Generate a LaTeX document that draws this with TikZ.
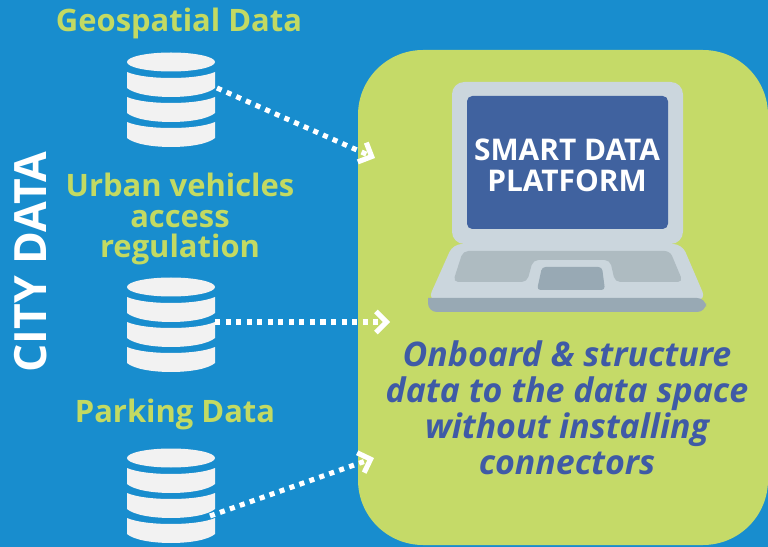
\documentclass[tikz,border=0pt]{standalone}
\usepackage{fontspec}
\setmainfont{Open Sans}
\usetikzlibrary{arrows.meta}

\definecolor{cityblue}{HTML}{188DCE}
\definecolor{panelgreen}{HTML}{C5DA68}
\definecolor{labelgreen}{HTML}{C3DA62}
\definecolor{stackwhite}{HTML}{F2F2F2}
\definecolor{screenblue}{HTML}{40629F}
\definecolor{captionblue}{HTML}{3F5AA6}
\definecolor{lidgrey}{HTML}{CBD6DD}
\definecolor{padgrey}{HTML}{AEBBC1}
\definecolor{edgegrey}{HTML}{98A9B4}

\tikzset{
    dbstack/.pic={
        \fill [stackwhite] (0,10) ellipse [x radius=44,y radius=9.5];
        \foreach \top in {20,45,70} {
            \fill [stackwhite] (-44,\top) .. controls (-26,{\top+8}) and (26,{\top+8}) .. (44,\top)
                -- (44,{\top+16}) .. controls (30,{\top+28}) and (-30,{\top+28}) .. (-44,{\top+16}) -- cycle;
        }
    }
}

\begin{document}
\begin{tikzpicture}[x=0.02cm,y=-0.02cm]
\useasboundingbox (0,0) rectangle (768,547);
\fill [cityblue] (0,0) rectangle (768,547);
\fill [panelgreen, rounded corners=1.3cm] (358,50) rectangle (768,545);

% laptop
\fill [lidgrey, rounded corners=7pt] (452,82) rectangle (683,244);
\fill [screenblue, rounded corners=3pt] (467,96) rectangle (668,229);
\fill [lidgrey, rounded corners=5pt] (428,300) -- (453,244) -- (682,244) -- (706,300) -- cycle;
\fill [edgegrey, rounded corners=5pt] (428,298) -- (428,312) -- (706,312) -- (706,298) [sharp corners] -- cycle;
\fill [padgrey, rounded corners=3pt] (463,251) -- (670,251) -- (683,282) -- (615,282) -- (610,260) -- (533,260) -- (527,282) -- (453,282) -- cycle;
\fill [edgegrey, rounded corners=2pt] (542,267) -- (602,267) -- (605,290) -- (537,290) -- cycle;

\pic at (171,52) {dbstack};
\pic at (171,277) {dbstack};
\pic at (171,448) {dbstack};

\begin{scope}[every node/.style={align=center,text=labelgreen,font=\fontsize{17.6}{17.6}\selectfont\bfseries}]
    \node (geolabel) at (179,23) {Geospatial Data};
    \node (urbanlabel) at (180,219) {Urban vehicles\\access\\regulation};
    \node (parkinglabel) at (175,414) {Parking Data};
\end{scope}

\node (citydata) [rotate=90,text=white,font=\fontsize{25.3}{26}\selectfont\bfseries] at (31,262) {CITY DATA};
\node (platform) [align=center,text=white,font=\fontsize{17}{17.6}\selectfont\bfseries] at (567,165) {SMART DATA\\PLATFORM};
\node (caption) [align=center,text=captionblue,font=\fontsize{19.3}{20.5}\selectfont\bfseries\itshape] at (567,408)
    {Onboard \& structure\\data to the data space\\without installing\\connectors};

\coordinate (geoout) at (217,88);
\coordinate (urbanout) at (215,322);
\coordinate (parkingout) at (210,516);
\coordinate (geoin) at (375,158);
\coordinate (urbanin) at (390,322);
\coordinate (parkingin) at (374,458);

\begin{scope}[>={Straight Barb[length=6pt,width=12pt]},
              every path/.style={draw=white,line width=2.9pt,dash pattern=on 2.9pt off 3.1pt}]
    \path [->] (geoout) -- (geoin);
    \path [->] (urbanout) -- (urbanin);
    \path [->] (parkingout) -- (parkingin);
\end{scope}
\end{tikzpicture}
\end{document}
